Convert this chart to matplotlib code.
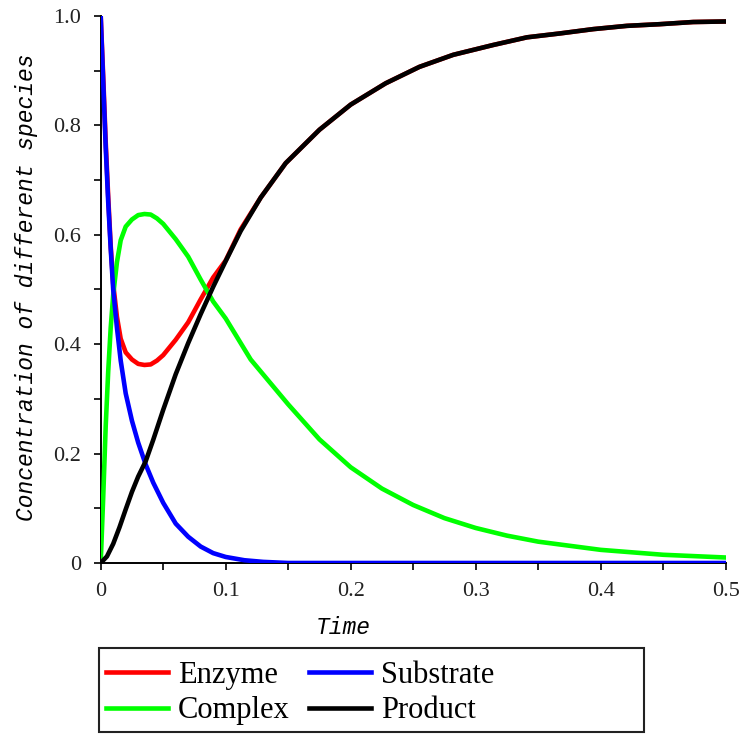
import matplotlib
matplotlib.use("Agg")
import matplotlib.pyplot as plt
from matplotlib.patches import Rectangle

# values
t_enzyme = [0, 0.002, 0.004, 0.006, 0.008, 0.010, 0.013, 0.016, 0.020, 0.025,
            0.030, 0.035, 0.040, 0.045, 0.050, 0.060, 0.070, 0.080, 0.090, 0.100,
            0.112, 0.128, 0.148, 0.175, 0.200, 0.228, 0.255, 0.282, 0.314, 0.341,
            0.367, 0.394, 0.421, 0.447, 0.474, 0.500]
enzyme = [1.0, 0.89, 0.77, 0.67, 0.58, 0.51, 0.45, 0.41, 0.385, 0.372,
          0.364, 0.362, 0.363, 0.370, 0.380, 0.408, 0.440, 0.482, 0.522, 0.553,
          0.610, 0.668, 0.731, 0.792, 0.838, 0.877, 0.907, 0.929, 0.947, 0.961,
          0.968, 0.976, 0.982, 0.985, 0.989, 0.990]

t_substrate = [0, 0.002, 0.004, 0.006, 0.008, 0.010, 0.013, 0.016, 0.020, 0.025,
               0.030, 0.036, 0.042, 0.050, 0.060, 0.070, 0.080, 0.090, 0.100,
               0.115, 0.130, 0.150, 0.500]
substrate = [1.0, 0.88, 0.76, 0.66, 0.575, 0.50, 0.43, 0.37, 0.31, 0.26,
             0.22, 0.18, 0.147, 0.11, 0.072, 0.048, 0.030, 0.018, 0.011,
             0.005, 0.002, 0.0, 0.0]

t_complex = [0, 0.001, 0.002, 0.004, 0.006, 0.008, 0.010, 0.013, 0.016, 0.020,
             0.025, 0.030, 0.035, 0.040, 0.045, 0.050, 0.060, 0.070, 0.080, 0.090,
             0.100, 0.120, 0.150, 0.175, 0.200, 0.225, 0.250, 0.275, 0.300, 0.325,
             0.350, 0.400, 0.450, 0.500]
complex_ = [0, 0.06, 0.12, 0.25, 0.35, 0.43, 0.49, 0.55, 0.59, 0.615,
            0.628, 0.636, 0.638, 0.637, 0.630, 0.620, 0.592, 0.560, 0.518, 0.478,
            0.447, 0.372, 0.290, 0.226, 0.175, 0.136, 0.106, 0.082, 0.064, 0.050,
            0.039, 0.024, 0.015, 0.010]

t_product = [0, 0.005, 0.010, 0.015, 0.020, 0.025, 0.030, 0.036, 0.042, 0.050,
             0.060, 0.070, 0.080, 0.090, 0.100, 0.112, 0.128, 0.148, 0.175, 0.200,
             0.228, 0.255, 0.282, 0.314, 0.341, 0.367, 0.394, 0.421, 0.447, 0.474,
             0.500]
product = [0, 0.012, 0.035, 0.065, 0.098, 0.130, 0.158, 0.186, 0.225, 0.280,
           0.345, 0.402, 0.455, 0.505, 0.552, 0.607, 0.668, 0.731, 0.792, 0.838,
           0.877, 0.907, 0.929, 0.947, 0.961, 0.968, 0.976, 0.982, 0.985, 0.989,
           0.990]

x_ticks = [0, 0.1, 0.2, 0.3, 0.4, 0.5]
x_tick_labels = ["0", "0.1", "0.2", "0.3", "0.4", "0.5"]
y_ticks = [0, 0.2, 0.4, 0.6, 0.8, 1.0]
y_tick_labels = ["0", "0.2", "0.4", "0.6", "0.8", "1.0"]

SERIF = "Liberation Serif"
MONO = "Liberation Mono"
LW = 3.3

fig = plt.figure(figsize=(7.41, 7.34), dpi=100)
ax = fig.add_axes([0.1359, 0.2330, 0.8434, 0.7452])

l_enz, = ax.plot(t_enzyme, enzyme, color="#ff0000", lw=LW, zorder=2)
l_cpx, = ax.plot(t_complex, complex_, color="#00ff00", lw=LW, zorder=3)
l_sub, = ax.plot(t_substrate, substrate, color="#0000ff", lw=LW, zorder=4)
l_prd, = ax.plot(t_product, product, color="black", lw=LW, zorder=5)

ax.set_xlim(0, 0.5)
ax.set_ylim(0, 1.0)
for side in ("top", "right"):
    ax.spines[side].set_visible(False)
for side in ("left", "bottom"):
    ax.spines[side].set_linewidth(1.4)

ax.set_xticks(x_ticks)
ax.set_xticklabels(x_tick_labels)
ax.set_yticks(y_ticks)
ax.set_yticklabels(y_tick_labels)
ax.set_xticks([0.05, 0.15, 0.25, 0.35, 0.45], minor=True)
ax.set_yticks([0.1, 0.3, 0.5, 0.7, 0.9], minor=True)
ax.tick_params(which="both", direction="out", length=5, width=1.2, color="black")
ax.tick_params(axis="x", which="major", pad=9)
ax.tick_params(axis="y", which="major", pad=9)
for lab in ax.get_xticklabels() + ax.get_yticklabels():
    lab.set_fontfamily(SERIF)
    lab.set_fontsize(16)
    lab.set_color("#222222")

fig.text(0.463, 1 - 628 / 734, "Time", fontfamily=MONO, style="italic",
         fontsize=16.5, ha="center", va="center")
fig.text(27 / 741, 1 - 287 / 734, "Concentration of different species",
         fontfamily=MONO, style="italic", fontsize=16.5, rotation=90,
         ha="center", va="center")

# legend box
fig.patches.append(Rectangle((99 / 741, 2 / 734), 545 / 741, 84 / 734,
                             transform=fig.transFigure, fill=False,
                             edgecolor="#222222", linewidth=1.5))
fig.legend([l_enz, l_cpx, l_sub, l_prd],
           ["Enzyme", "Complex", "Substrate", "Product"],
           ncol=2, frameon=False, loc="upper left",
           bbox_to_anchor=(106 / 741, 1 - 661 / 734),
           prop={"family": SERIF, "size": 22},
           handlelength=2.03, handletextpad=0.33, columnspacing=0.62,
           labelspacing=0.21, borderpad=0.0, borderaxespad=0.0)

fig.savefig("out.png", dpi=100)
